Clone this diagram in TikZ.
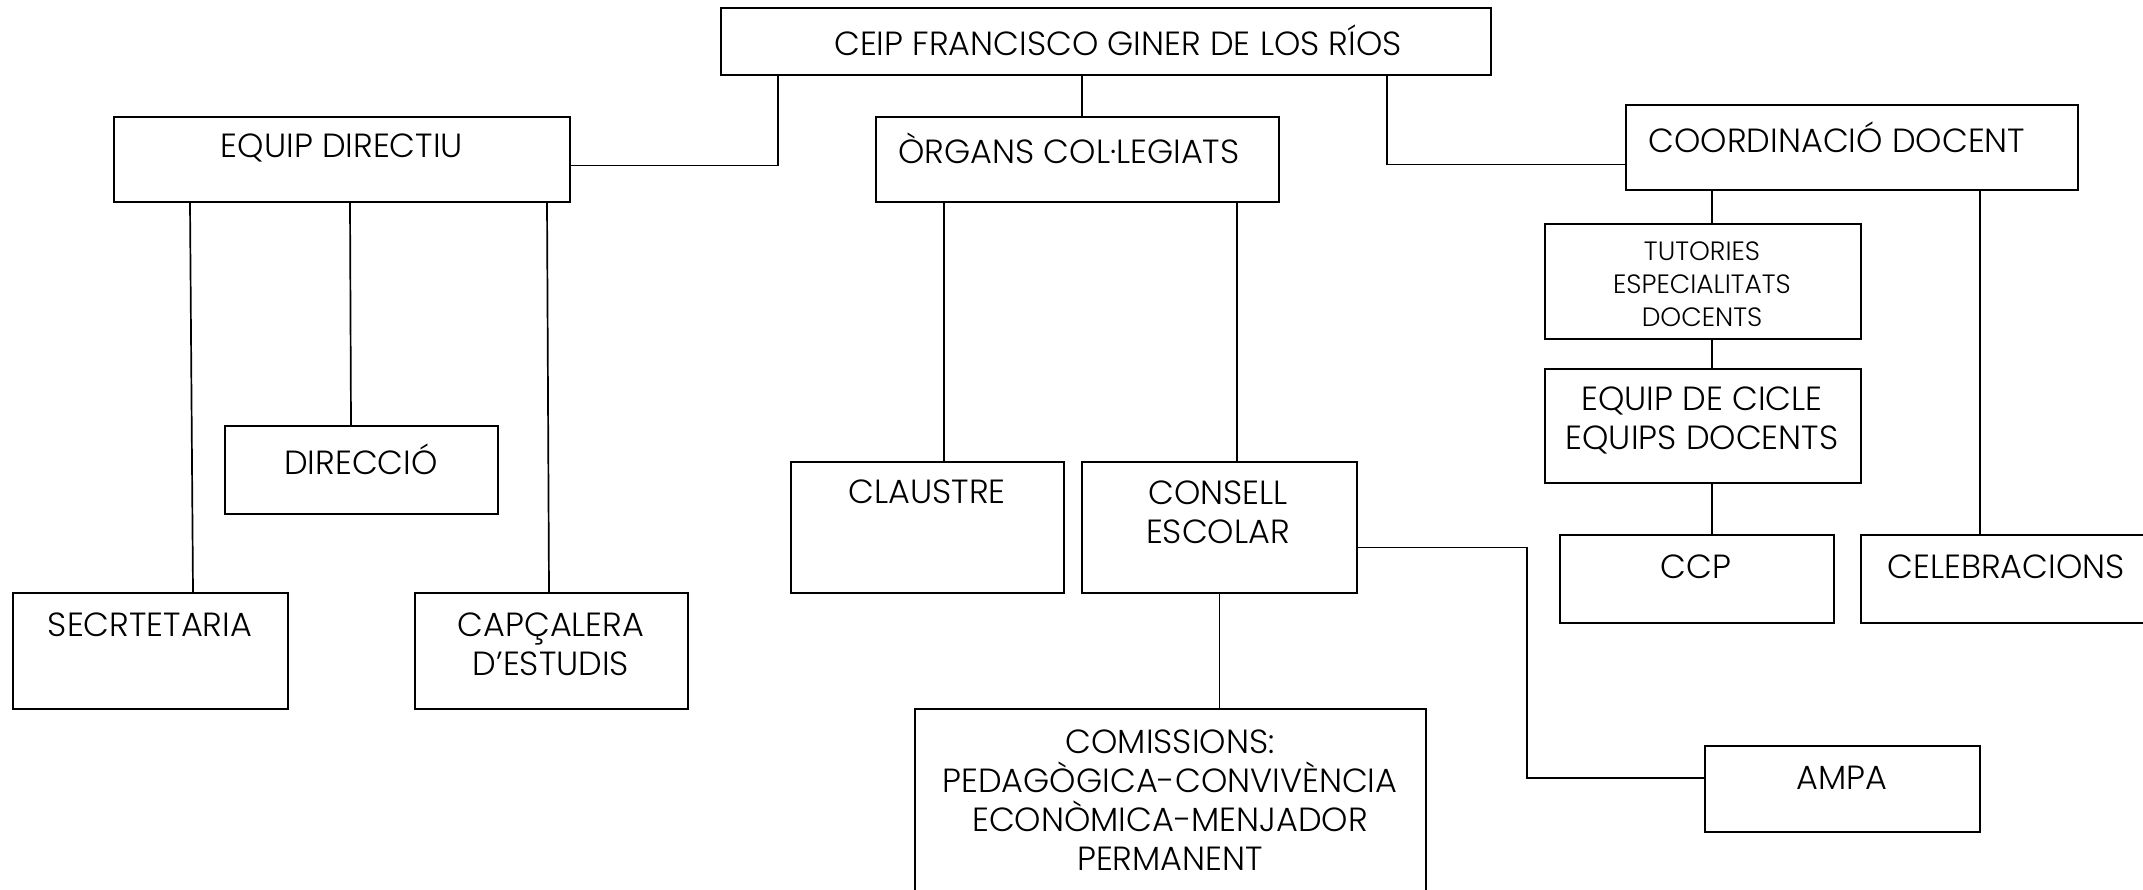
\documentclass[tikz,border=0pt]{standalone}
\usepackage{fontspec}
\setmainfont{Poppins Light}
\usetikzlibrary{calc}
\tikzset{
  box/.style={draw, line width=1.7pt, rectangle, inner sep=0pt, anchor=north west},
  lbl/.style={font=\fontsize{33.5}{39}\selectfont, align=center, inner sep=0pt},
  lblsmall/.style={font=\fontsize{26.5}{33}\selectfont, align=center, inner sep=0pt},
  conn/.style={line width=1.7pt},
}
\begin{document}
\begin{tikzpicture}[x=1pt,y=-1pt]
\useasboundingbox (0,0) rectangle (2143,889);
\clip (0,0) rectangle (2143,889);
% boxes
\node[box, minimum width=770pt, minimum height=67pt] (ceip) at (720,7) {};
\node[box, minimum width=456pt, minimum height=85pt] (ed) at (113,116) {};
\node[box, minimum width=403pt, minimum height=85pt] (org) at (875,116) {};
\node[box, minimum width=452pt, minimum height=85pt] (coord) at (1625,104) {};
\node[box, minimum width=273pt, minimum height=88pt] (dir) at (224,425) {};
\node[box, minimum width=275pt, minimum height=116pt] (sec) at (12,592) {};
\node[box, minimum width=273pt, minimum height=116pt] (cap) at (414,592) {};
\node[box, minimum width=273pt, minimum height=131pt] (cla) at (790,461) {};
\node[box, minimum width=275pt, minimum height=131pt] (con) at (1081,461) {};
\node[box, minimum width=511pt, minimum height=200pt] (com) at (914,708) {};
\node[box, minimum width=275pt, minimum height=86pt] (ampa) at (1704,745) {};
\node[box, minimum width=316pt, minimum height=115pt] (tut) at (1544,223) {};
\node[box, minimum width=316pt, minimum height=114pt] (cic) at (1544,368) {};
\node[box, minimum width=274pt, minimum height=88pt] (ccp) at (1559,534) {};
\node[box, minimum width=300pt, minimum height=88pt] (cel) at (1860,534) {};
\coordinate (bend) at (1527,778);
% texts
\node[lbl] (tceip) at (1118,40) {CEIP FRANCISCO GINER DE LOS RÍOS};
\node[lbl] (ted) at (342,148) {EQUIP DIRECTIU};
\node[lbl] (torg) at (1069,148) {ÒRGANS COL·LEGIATS};
\node[lbl] (tcoord) at (1837,137) {COORDINACIÓ DOCENT};
\node[lbl] (tdir) at (361,459) {DIRECCIÓ};
\node[lbl] (tsec) at (150,625) {SECRTETARIA};
\node[lbl] (tcap) at (551,644) {CAPÇALERA\\D’ESTUDIS};
\node[lbl] (tcla) at (927,492) {CLAUSTRE};
\node[lbl] (tcon) at (1218,512) {CONSELL\\ESCOLAR};
\node[lbl] (tcom) at (1170,800) {COMISSIONS:\\PEDAGÒGICA-CONVIVÈNCIA\\ECONÒMICA-MENJADOR\\PERMANENT};
\node[lbl] (tampa) at (1842,778) {AMPA};
\node[lblsmall] (ttut) at (1702,284) {TUTORIES\\ESPECIALITATS\\DOCENTS};
\node[lbl] (tcic) at (1702,420) {EQUIP DE CICLE\\EQUIPS DOCENTS};
\node[lbl] (tccp) at (1696,567) {CCP};
\node[lbl] (tcel) at (2006,567) {CELEBRACIONS};
% connectors
\draw[conn] ([xshift=58pt]ceip.south west) |- ([yshift=-6pt]ed.east);
\draw[conn] ([xshift=362pt]ceip.south west) -- ([xshift=362pt]ceip.south west |- org.north);
\draw[conn] ([xshift=667pt]ceip.south west) |- ([yshift=-17pt]coord.west);
\draw[conn] ([xshift=77pt]ed.south west) -- ([xshift=181pt]sec.north west);
\draw[conn] ([xshift=237pt]ed.south west) -- ([xshift=127pt]dir.north west);
\draw[conn] ([xshift=434pt]ed.south west) -- ([xshift=135pt]cap.north west);
\draw[conn] ([xshift=69pt]org.south west) -- ([xshift=69pt]org.south west |- cla.north);
\draw[conn] ([xshift=362pt]org.south west) -- ([xshift=362pt]org.south west |- con.north);
\draw[conn] (con.south) -- (con.south |- com.north);
\draw[conn] ([yshift=-20pt]con.east) -| (bend) -- (bend -| ampa.west);
\draw[conn] ([xshift=87pt]coord.south west) -- ([xshift=87pt]coord.south west |- tut.north);
\draw[conn] ([xshift=168pt]tut.south west) -- ([xshift=168pt]tut.south west |- cic.north);
\draw[conn] ([xshift=168pt]cic.south west) -- ([xshift=168pt]cic.south west |- ccp.north);
\draw[conn] ([xshift=355pt]coord.south west) -- ([xshift=355pt]coord.south west |- cel.north);
\end{tikzpicture}
\end{document}
